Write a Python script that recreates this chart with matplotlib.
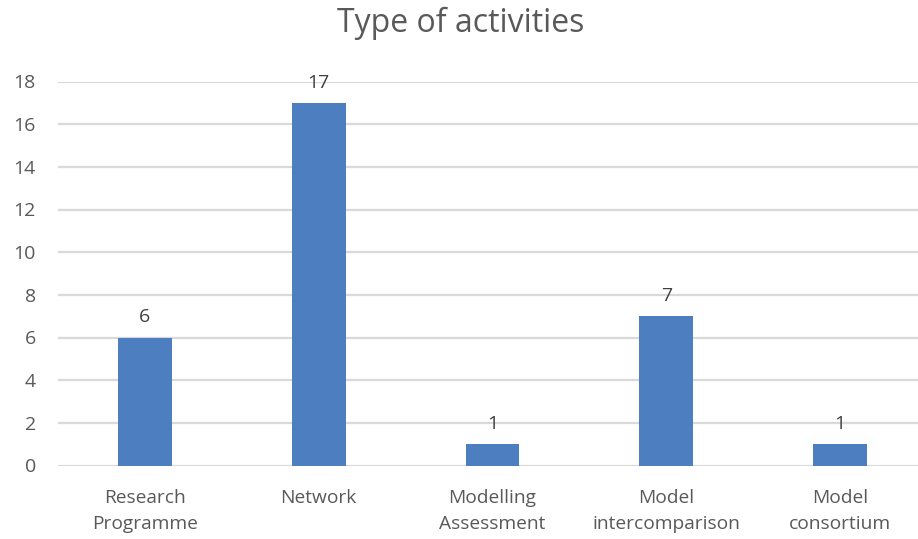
import matplotlib
matplotlib.use("Agg")
import matplotlib.pyplot as plt

categories = ["Research\nProgramme", "Network", "Modelling\nAssessment",
              "Model\nintercomparison", "Model\nconsortium"]
counts = [6, 17, 1, 7, 1]
yticks = [0, 2, 4, 6, 8, 10, 12, 14, 16, 18]

BAR_COLOR = "#4d7ebf"
TEXT_COLOR = "#595959"
GRID_COLOR = "#d9d9d9"

plt.rcParams["font.family"] = ["Open Sans", "DejaVu Sans"]

fig = plt.figure(figsize=(9.18, 5.39), dpi=100)
W, H = 918, 539
left, right, bottom, top = 58, 927, 465.5, 81.5
ax = fig.add_axes([left / W, 1 - bottom / H, (right - left) / W, (bottom - top) / H])

x = list(range(len(categories)))
bars = ax.bar(x, counts, width=0.31, color=BAR_COLOR, zorder=3)

for b, v in zip(bars, counts):
    ax.annotate(str(v), (b.get_x() + b.get_width() / 2, v), xytext=(0, 8),
                textcoords="offset points", ha="center", va="bottom",
                fontsize=14, color="#404040")

ax.set_xlim(-0.5, len(categories) - 0.5)
ax.set_ylim(0, 18)
ax.set_yticks(yticks)
ax.set_xticks(x)
ax.set_xticklabels(categories, fontsize=13.8, color=TEXT_COLOR, linespacing=1.55)
ax.tick_params(axis="y", length=0, pad=16, labelsize=14, labelcolor=TEXT_COLOR)
ax.tick_params(axis="x", length=0, pad=17)

ax.yaxis.grid(True, color=GRID_COLOR, linewidth=1.6, zorder=0)
ax.set_axisbelow(True)
for s in ax.spines.values():
    s.set_visible(False)

fig.text(461 / W, 1 - 23 / H, "Type of activities", ha="center", va="center",
         fontsize=23, color=TEXT_COLOR)

fig.savefig("out.png", dpi=100)
